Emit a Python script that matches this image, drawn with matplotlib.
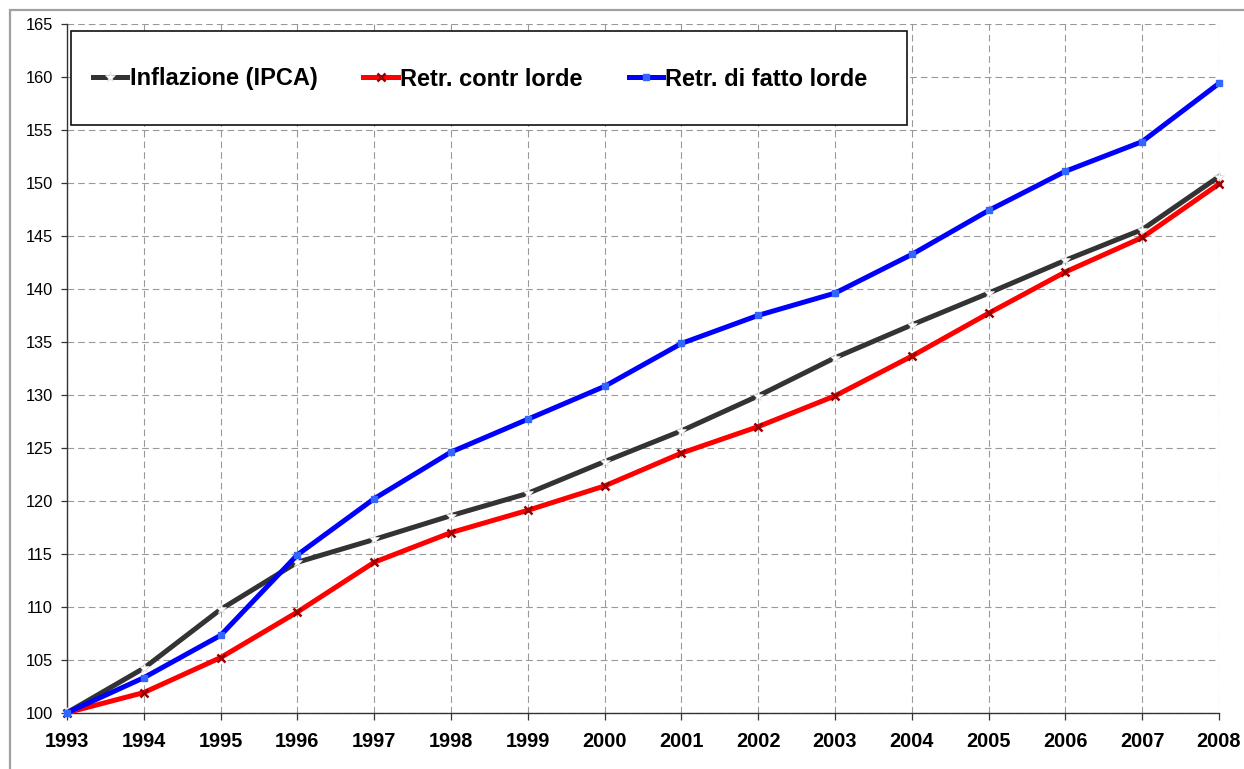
import matplotlib
matplotlib.use("Agg")
import matplotlib.pyplot as plt
from matplotlib.patches import Rectangle
from matplotlib.lines import Line2D

years = list(range(1993, 2009))
ipca = [100, 104.2, 109.75, 114.2, 116.35, 118.6, 120.7, 123.7, 126.6, 129.9,
        133.5, 136.6, 139.6, 142.7, 145.6, 150.6]
contr = [100, 101.9, 105.2, 109.5, 114.2, 117.0, 119.1, 121.4, 124.5, 127.0,
         129.9, 133.65, 137.7, 141.6, 144.85, 149.9]
fatto = [100, 103.3, 107.3, 114.9, 120.2, 124.6, 127.7, 130.8, 134.85, 137.5,
         139.6, 143.25, 147.4, 151.1, 153.9, 159.4]
labels = ["Inflazione (IPCA)", "Retr. contr lorde", "Retr. di fatto lorde"]
yticks = list(range(100, 166, 5))

plt.rcParams['font.family'] = ['Liberation Sans', 'DejaVu Sans']

W, H = 1244, 769
fig = plt.figure(figsize=(W / 100, H / 100), dpi=100)
ax = fig.add_axes([67 / W, 1 - 712.7 / H, (1219 - 67) / W, (712.7 - 24) / H])

# outer gray frame (cropped at right/bottom)
fig.patches.append(Rectangle((10 / W, -0.05), 1.1, 1 - 10 / H + 0.05,
                             transform=fig.transFigure, fill=False,
                             edgecolor='#a0a0a0', linewidth=1.6, zorder=0))

dash = (0, (6, 3.6))
ax.set_xlim(1993, 2008)
ax.set_ylim(100, 165)
ax.set_xticks(years)
ax.set_yticks(yticks)
ax.grid(True, color='#999999', linestyle=dash, linewidth=0.8)
ax.set_axisbelow(True)
for s in ['top', 'right']:
    ax.spines[s].set_visible(False)
for s in ['left', 'bottom']:
    ax.spines[s].set_color('#333333')
    ax.spines[s].set_linewidth(1.0)

ax.tick_params(axis='y', direction='out', length=4, width=0.9, color='#333333',
               pad=6, labelsize=11.8)
ax.tick_params(axis='x', direction='out', length=5, width=0.9, color='#333333',
               pad=9, labelsize=14.3)
for t in ax.get_xticklabels():
    t.set_fontweight('bold')

l1, = ax.plot(years, ipca, color='#333333', lw=3.6, marker='*', ms=8,
              mfc='white', mec='#dddddd', mew=0.5, clip_on=False, zorder=3)
l2, = ax.plot(years, contr, color='#ff0000', lw=3.6, marker='x', ms=6,
              mec='#990000', mew=1.8, clip_on=False, zorder=4)
l3, = ax.plot(years, fatto, color='#0000ff', lw=3.6, marker='s', ms=5,
              mfc='#3366ff', mec='#3366ff', clip_on=False, zorder=5)

# legend box
fig.patches.append(Rectangle((71 / W, 1 - 125 / H), (907 - 71) / W, (125 - 31) / H,
                             transform=fig.transFigure, facecolor='white',
                             edgecolor='#111111', linewidth=1.2, zorder=6))
leg = fig.legend([l1, l2, l3], labels, ncol=3, loc='center left',
                 bbox_to_anchor=(93 / W, 1 - 79 / H), frameon=False,
                 borderpad=0, borderaxespad=0, handlelength=1.45,
                 handletextpad=0.1, columnspacing=1.95,
                 prop={'weight': 'bold', 'size': 17})
leg.set_zorder(7)

fig.savefig('out.png', dpi=100)
